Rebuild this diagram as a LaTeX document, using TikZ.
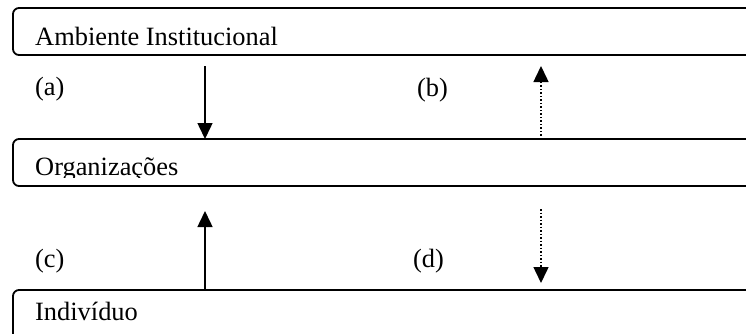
\documentclass[tikz,border=0pt]{standalone}
\usepackage{fontspec}
\setmainfont{Liberation Serif}
\usetikzlibrary{arrows.meta}
\begin{document}
\begin{tikzpicture}[x=1pt,y=-1pt,
  box/.style={draw, line width=1.8pt, rounded corners=6pt, minimum height=47pt,
    minimum width=770pt, anchor=north west, inner sep=0pt, outer sep=0pt},
  lbl/.style={anchor=base west, inner sep=0pt, font=\fontsize{26.4}{30}\selectfont},
  arr/.style={line width=1.5pt, -{Triangle[width=15pt,length=16pt]}},
  dotarr/.style={arr, dotted}]
\useasboundingbox (0,0) rectangle (746,333);
\clip (0,0) rectangle (746,333);
% boxes
\node[box] (inst) at (13,8) {};
\node[box] (org) at (13,139) {};
\node[box, minimum height=80pt] (ind) at (13,290) {};
% box texts
\node[lbl] (tinst) at (35,45) {Ambiente Institucional};
\begin{scope}
  \clip (13,139) rectangle (746,177.5);
  \node[lbl] (torg) at (35,175) {Organizações};
\end{scope}
\node[lbl] (tind) at (35,320) {Indivíduo};
% labels
\node[lbl] (la) at (35,95) {(a)};
\node[lbl] (lb) at (417,96) {(b)};
\node[lbl] (lc) at (35,267) {(c)};
\node[lbl] (ld) at (413,267) {(d)};
% arrows
\coordinate (aS) at (205,66);
\draw[arr] (aS) -- (aS |- org.north);
\coordinate (bE) at (541,66);
\draw[dotarr] (bE |- org.north) -- (bE);
\coordinate (cE) at (205,211);
\draw[arr] (cE |- ind.north) -- (cE);
\coordinate (dS) at (541,209);
\coordinate (dE) at (541,283);
\draw[dotarr] (dS) -- (dE);
\end{tikzpicture}
\end{document}
